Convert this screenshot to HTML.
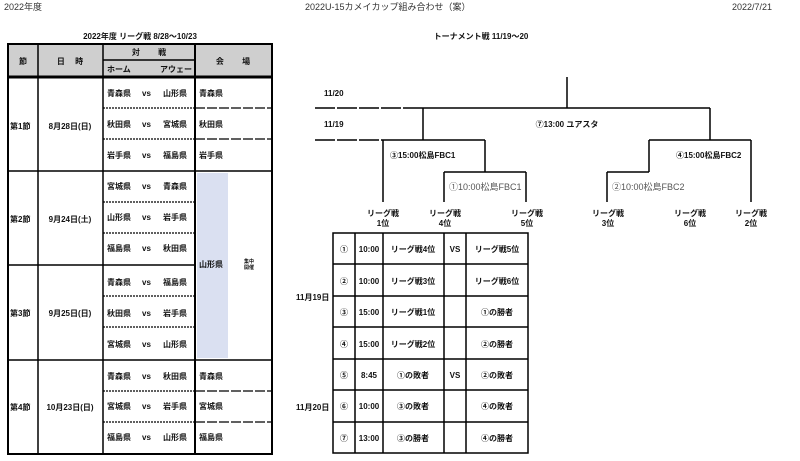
<!DOCTYPE html>
<html><head><meta charset="utf-8"><style>
html,body{margin:0;padding:0;background:#fff;width:800px;height:461px;overflow:hidden}
svg{display:block}
text{font-family:"Liberation Sans","Noto Sans CJK JP",sans-serif;font-size:8px;font-weight:bold;fill:#111}
.n{font-weight:normal;fill:#333;font-size:9px}
.g{font-weight:normal;fill:#555;font-size:9px}
.m{text-anchor:middle}
</style></head><body>
<svg width="800" height="461" viewBox="0 0 800 461">
<!-- header -->
<text class="n" x="4" y="10">2022年度</text>
<text class="n" x="305" y="10">2022U-15カメイカップ組み合わせ（案）</text>
<text class="n" x="732" y="10">2022/7/21</text>
<text x="140" y="39" class="m">2022年度  リーグ戦  8/28～10/23</text>
<text x="481" y="39" class="m">トーナメント戦  11/19～20</text>

<!-- league table -->
<rect x="8" y="44" width="264" height="32" fill="#cfcfcf"/>
<rect x="197" y="173" width="31" height="185" fill="#dae0f1"/>
<g stroke="#000" fill="none">
<rect x="8" y="44" width="264" height="410" stroke-width="2"/>
<line x1="8" y1="77" x2="272" y2="77" stroke-width="3"/>
<line x1="103" y1="60" x2="195" y2="60" stroke-width="1.5"/>
<line x1="38" y1="44" x2="38" y2="454" stroke-width="1.5"/>
<line x1="103" y1="44" x2="103" y2="454" stroke-width="1.5"/>
<line x1="195" y1="44" x2="195" y2="454" stroke-width="2"/>
<line x1="8" y1="171" x2="272" y2="171" stroke-width="1.5"/>
<line x1="8" y1="265" x2="195" y2="265" stroke-width="1.5"/>
<line x1="8" y1="360" x2="272" y2="360" stroke-width="1.5"/>
<g stroke-dasharray="2,1" stroke-width="1.3">
<line x1="103" y1="108" x2="195" y2="108"/><line x1="103" y1="139" x2="195" y2="139"/>
<line x1="103" y1="202" x2="195" y2="202"/><line x1="103" y1="233" x2="195" y2="233"/>
<line x1="103" y1="296" x2="195" y2="296"/><line x1="103" y1="327" x2="195" y2="327"/>
<line x1="103" y1="391" x2="195" y2="391"/><line x1="103" y1="422" x2="195" y2="422"/>
</g>
<g stroke-dasharray="10,2" stroke-width="1.3">
<line x1="195" y1="108" x2="272" y2="108"/><line x1="195" y1="139" x2="272" y2="139"/>
<line x1="195" y1="391" x2="272" y2="391"/><line x1="195" y1="422" x2="272" y2="422"/>
</g>
</g>
<text x="23" y="64" class="m">節</text>
<text x="70" y="64" class="m">日　 時</text>
<text x="149" y="55" class="m">対　　 戦</text>
<text x="107" y="72">ホーム</text>
<text x="160" y="72">アウェー</text>
<text x="233" y="64" class="m">会　　 場</text>

<text x="10" y="129">第1節</text><text x="70" y="129" class="m">8月28日(日)</text>
<text x="10" y="222">第2節</text><text x="70" y="222" class="m">9月24日(土)</text>
<text x="10" y="316">第3節</text><text x="70" y="316" class="m">9月25日(日)</text>
<text x="10" y="410">第4節</text><text x="70" y="410" class="m">10月23日(日)</text>

<g>
<text x="107" y="96">青森県</text><text x="163" y="96">山形県</text><text x="199" y="96">青森県</text>
<text x="107" y="127">秋田県</text><text x="163" y="127">宮城県</text><text x="199" y="127">秋田県</text>
<text x="107" y="158">岩手県</text><text x="163" y="158">福島県</text><text x="199" y="158">岩手県</text>
<text x="107" y="189">宮城県</text><text x="163" y="189">青森県</text>
<text x="107" y="220">山形県</text><text x="163" y="220">岩手県</text>
<text x="107" y="251">福島県</text><text x="163" y="251">秋田県</text>
<text x="107" y="285">青森県</text><text x="163" y="285">福島県</text>
<text x="107" y="316">秋田県</text><text x="163" y="316">岩手県</text>
<text x="107" y="347">宮城県</text><text x="163" y="347">山形県</text>
<text x="107" y="379">青森県</text><text x="163" y="379">秋田県</text><text x="199" y="379">青森県</text>
<text x="107" y="409">宮城県</text><text x="163" y="409">岩手県</text><text x="199" y="409">宮城県</text>
<text x="107" y="440">福島県</text><text x="163" y="440">山形県</text><text x="199" y="440">福島県</text>
</g>
<g style="font-size:6px">
<text x="142" y="96">vs</text><text x="142" y="127">vs</text><text x="142" y="158">vs</text>
<text x="142" y="189">vs</text><text x="142" y="220">vs</text><text x="142" y="251">vs</text>
<text x="142" y="285">vs</text><text x="142" y="316">vs</text><text x="142" y="347">vs</text>
<text x="142" y="379">vs</text><text x="142" y="409">vs</text><text x="142" y="440">vs</text>
</g>
<text x="199" y="267">山形県</text>
<text x="244" y="263" style="font-size:5px">集中</text>
<text x="244" y="269" style="font-size:5px">開催</text>

<!-- bracket -->
<g stroke="#000" stroke-width="1.5" fill="none">
<line x1="567" y1="77" x2="567" y2="108"/>
<line x1="423" y1="108" x2="710" y2="108"/>
<line x1="423" y1="108" x2="423" y2="140"/>
<line x1="710" y1="108" x2="710" y2="140"/>
<line x1="383" y1="140" x2="485" y2="140"/>
<line x1="649" y1="140" x2="751" y2="140"/>
<line x1="383" y1="140" x2="383" y2="202"/>
<line x1="751" y1="140" x2="751" y2="202"/>
<line x1="485" y1="140" x2="485" y2="172"/>
<line x1="649" y1="140" x2="649" y2="172"/>
<line x1="444" y1="172" x2="485" y2="172"/>
<line x1="444" y1="172" x2="444" y2="202"/>
<line x1="526" y1="172" x2="526" y2="202"/>
<line x1="485" y1="172" x2="526" y2="172"/>
<line x1="607" y1="172" x2="649" y2="172"/>
<line x1="607" y1="172" x2="607" y2="202"/>
<line x1="315" y1="108" x2="423" y2="108" stroke-dasharray="20,2"/>
<line x1="315" y1="140" x2="383" y2="140" stroke-dasharray="20,2"/>
</g>
<text x="324" y="96">11/20</text>
<text x="324" y="127">11/19</text>
<text x="567" y="127" class="m">⑦13:00  ユアスタ</text>
<text x="390" y="158">③15:00松島FBC1</text>
<text x="676" y="158">④15:00松島FBC2</text>
<text x="449" y="190" class="g">①10:00松島FBC1</text>
<text x="612" y="190" class="g">②10:00松島FBC2</text>
<g class="m">
<text x="383" y="216" class="m">リーグ戦</text><text x="383" y="226" class="m">1位</text>
<text x="445" y="216" class="m">リーグ戦</text><text x="445" y="226" class="m">4位</text>
<text x="527" y="216" class="m">リーグ戦</text><text x="527" y="226" class="m">5位</text>
<text x="608" y="216" class="m">リーグ戦</text><text x="608" y="226" class="m">3位</text>
<text x="690" y="216" class="m">リーグ戦</text><text x="690" y="226" class="m">6位</text>
<text x="751" y="216" class="m">リーグ戦</text><text x="751" y="226" class="m">2位</text>
</g>

<!-- tournament table -->
<g stroke="#000" stroke-width="1.5" fill="none">
<rect x="333" y="233" width="195" height="220"/>
<line x1="355" y1="233" x2="355" y2="453"/>
<line x1="383" y1="233" x2="383" y2="453"/>
<line x1="444" y1="233" x2="444" y2="453"/>
<line x1="466" y1="233" x2="466" y2="453"/>
<line x1="333" y1="264" x2="528" y2="264"/>
<line x1="333" y1="296" x2="528" y2="296"/>
<line x1="333" y1="327" x2="528" y2="327"/>
<line x1="333" y1="359" x2="528" y2="359"/>
<line x1="333" y1="390" x2="528" y2="390"/>
<line x1="333" y1="422" x2="528" y2="422"/>
</g>
<text x="296" y="300">11月19日</text>
<text x="296" y="410">11月20日</text>
<g>
<text x="344" y="252" class="m">①</text><text x="369" y="252" class="m">10:00</text><text x="413" y="252" class="m">リーグ戦4位</text><text x="455" y="252" class="m">VS</text><text x="497" y="252" class="m">リーグ戦5位</text>
<text x="344" y="284" class="m">②</text><text x="369" y="284" class="m">10:00</text><text x="413" y="284" class="m">リーグ戦3位</text><text x="497" y="284" class="m">リーグ戦6位</text>
<text x="344" y="315" class="m">③</text><text x="369" y="315" class="m">15:00</text><text x="413" y="315" class="m">リーグ戦1位</text><text x="497" y="315" class="m">①の勝者</text>
<text x="344" y="347" class="m">④</text><text x="369" y="347" class="m">15:00</text><text x="413" y="347" class="m">リーグ戦2位</text><text x="497" y="347" class="m">②の勝者</text>
<text x="344" y="378" class="m">⑤</text><text x="369" y="378" class="m">8:45</text><text x="413" y="378" class="m">①の敗者</text><text x="455" y="378" class="m">VS</text><text x="497" y="378" class="m">②の敗者</text>
<text x="344" y="409" class="m">⑥</text><text x="369" y="409" class="m">10:00</text><text x="413" y="409" class="m">③の敗者</text><text x="497" y="409" class="m">④の敗者</text>
<text x="344" y="441" class="m">⑦</text><text x="369" y="441" class="m">13:00</text><text x="413" y="441" class="m">③の勝者</text><text x="497" y="441" class="m">④の勝者</text>
</g>
</svg>
</body></html>
